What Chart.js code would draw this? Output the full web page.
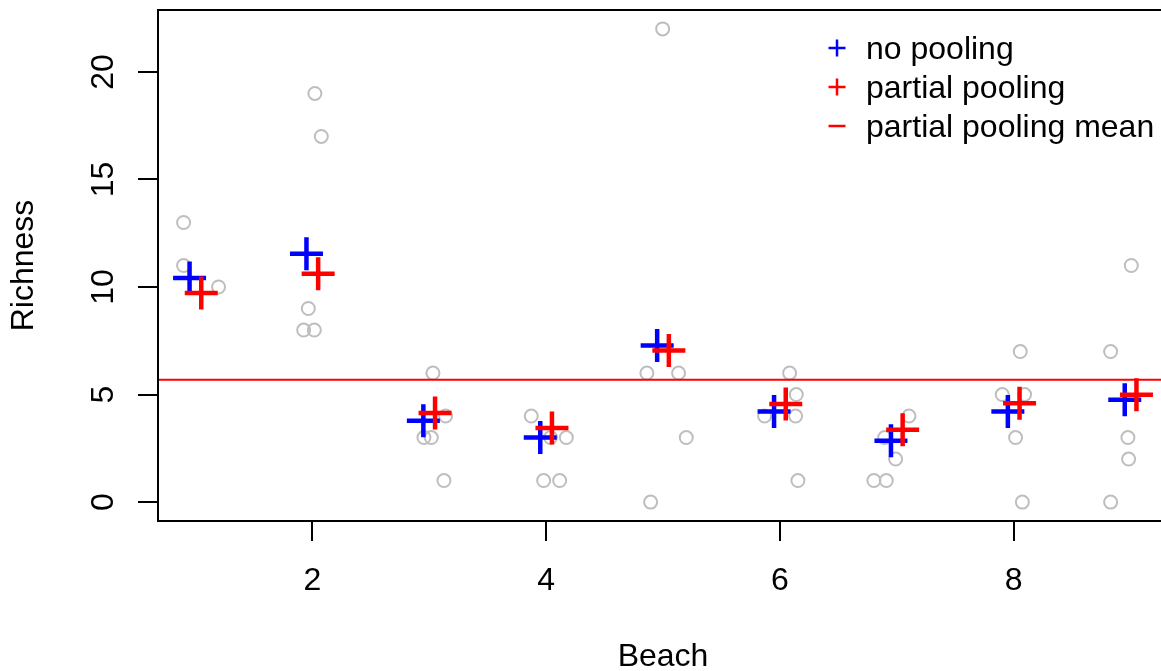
<!DOCTYPE html>
<html>
<head>
<meta charset="utf-8">
<title>Richness by beach</title>
<script src="https://cdn.jsdelivr.net/npm/chart.js@4.4.1/dist/chart.umd.min.js"></script>
<style>
  html, body { margin: 0; padding: 0; background: #fff; }
  canvas { display: block; }
</style>
</head>
<body>
<canvas id="richness" width="1161" height="671"></canvas>
<script>
// model estimates, one per beach
const beaches = [1, 2, 3, 4, 5, 6, 7, 8, 9];
const noPooling = [10.42, 11.55, 3.78, 3.00, 7.28, 4.21, 2.85, 4.21, 4.76];
const partialPooling = [9.72, 10.62, 4.14, 3.44, 7.05, 4.56, 3.36, 4.60, 4.99];
const partialPoolingMean = 5.69;

// raw samples: jittered beach position and observed richness
const sampleBeach = [
  0.899, 0.899, 1.198,
  2.022, 2.077, 1.966, 1.926, 2.017,
  3.032, 3.140, 2.955, 3.018, 3.126,
  3.873, 4.038, 4.173, 3.979, 4.116,
  4.997, 4.862, 5.133, 5.199, 4.894,
  6.083, 6.140, 5.869, 6.134, 6.154,
  7.104, 6.896, 6.990, 6.804, 6.910,
  8.056, 7.902, 8.093, 8.016, 8.074,
  9.006, 8.829, 8.977, 8.983, 8.829
];
const sampleRichness = [
  13, 11, 10,
  19, 17, 9, 8, 8,
  6, 4, 3, 3, 1,
  4, 3, 3, 1, 1,
  22, 6, 6, 3, 0,
  6, 5, 4, 4, 1,
  4, 3, 2, 1, 1,
  7, 5, 5, 3, 0,
  11, 7, 3, 2, 0
];

const xTicks = [2, 4, 6, 8];
const yTicks = [0, 5, 10, 15, 20];
// the plot runs on to x = 9.32; the page cuts it off at 9.26
const xLimits = [0.68, 9.26];
const xFullMax = 9.32;
const yLimits = [-0.88, 22.88];

const legendItems = [
  { label: 'no pooling', color: '#0000ff', mark: 'plus' },
  { label: 'partial pooling', color: '#ff0000', mark: 'plus' },
  { label: 'partial pooling mean', color: '#ff0000', mark: 'dash' }
];

const FONT = '32px "Liberation Sans", Arial, Helvetica, sans-serif';

// box, ticks, axis labels, titles and legend in base-graphics style
const frame = {
  id: 'frame',
  afterDraw(chart) {
    const { ctx, chartArea: a, scales: { x, y } } = chart;
    const plotRight = x.getPixelForValue(xFullMax);
    ctx.save();
    ctx.strokeStyle = '#000';
    ctx.lineWidth = 2;
    ctx.beginPath();
    ctx.moveTo(plotRight, a.top);
    ctx.lineTo(a.left, a.top);
    ctx.lineTo(a.left, a.bottom);
    ctx.lineTo(plotRight, a.bottom);

    xTicks.forEach(v => {
      const px = Math.round(x.getPixelForValue(v));
      ctx.moveTo(px, a.bottom);
      ctx.lineTo(px, a.bottom + 20);
    });
    yTicks.forEach(v => {
      const py = Math.round(y.getPixelForValue(v));
      ctx.moveTo(a.left, py);
      ctx.lineTo(a.left - 20, py);
    });
    ctx.stroke();

    ctx.fillStyle = '#000';
    ctx.font = FONT;
    ctx.textAlign = 'center';
    ctx.textBaseline = 'alphabetic';
    xTicks.forEach(v => ctx.fillText(String(v), x.getPixelForValue(v), a.bottom + 69));
    yTicks.forEach(v => {
      ctx.save();
      ctx.translate(a.left - 45, y.getPixelForValue(v));
      ctx.rotate(-Math.PI / 2);
      ctx.fillText(String(v), 0, 0);
      ctx.restore();
    });

    ctx.fillText('Beach', (a.left + plotRight) / 2, 666);
    ctx.save();
    ctx.translate(33, (a.top + a.bottom) / 2);
    ctx.rotate(-Math.PI / 2);
    ctx.fillText('Richness', 0, 0);
    ctx.restore();

    // legend, top right
    ctx.textAlign = 'left';
    const symX = plotRight - 331;
    const textX = plotRight - 302;
    legendItems.forEach((item, i) => {
      const cy = a.top + 38 + i * 39;
      ctx.strokeStyle = item.color;
      ctx.lineWidth = 2.5;
      ctx.beginPath();
      ctx.moveTo(symX - 8.5, cy);
      ctx.lineTo(symX + 8.5, cy);
      if (item.mark === 'plus') {
        ctx.moveTo(symX, cy - 8.5);
        ctx.lineTo(symX, cy + 8.5);
      }
      ctx.stroke();
      ctx.fillStyle = '#000';
      ctx.fillText(item.label, textX, cy + 11);
    });
    ctx.restore();
  }
};

const ctx = document.getElementById('richness').getContext('2d');
new Chart(ctx, {
  type: 'scatter',
  data: {
    datasets: [
      {
        label: 'partial pooling mean',
        data: xLimits.map(v => ({ x: v, y: partialPoolingMean })),
        showLine: true,
        borderColor: '#ff0000',
        borderWidth: 2,
        pointRadius: 0,
        order: 0
      },
      {
        label: 'partial pooling',
        data: beaches.map((b, i) => ({ x: b + 0.05, y: partialPooling[i] })),
        pointStyle: 'cross',
        pointRadius: 16.5,
        pointBorderWidth: 4.5,
        pointBorderColor: '#ff0000',
        order: 1
      },
      {
        label: 'no pooling',
        data: beaches.map((b, i) => ({ x: b - 0.05, y: noPooling[i] })),
        pointStyle: 'cross',
        pointRadius: 16.5,
        pointBorderWidth: 4.5,
        pointBorderColor: '#0000ff',
        order: 2
      },
      {
        label: 'samples',
        data: sampleBeach.map((b, i) => ({ x: b, y: sampleRichness[i] })),
        pointStyle: 'circle',
        pointRadius: 6.5,
        pointBorderWidth: 2,
        pointBorderColor: '#bebebe',
        pointBackgroundColor: 'rgba(0,0,0,0)',
        order: 3
      }
    ]
  },
  options: {
    responsive: false,
    animation: false,
    events: [],
    layout: { autoPadding: false, padding: { top: 10, right: 0, left: 158, bottom: 150 } },
    plugins: { legend: { display: false }, tooltip: { enabled: false } },
    scales: {
      x: { type: 'linear', display: false, min: xLimits[0], max: xLimits[1] },
      y: { type: 'linear', display: false, min: yLimits[0], max: yLimits[1] }
    }
  },
  plugins: [frame]
});
</script>
</body>
</html>
